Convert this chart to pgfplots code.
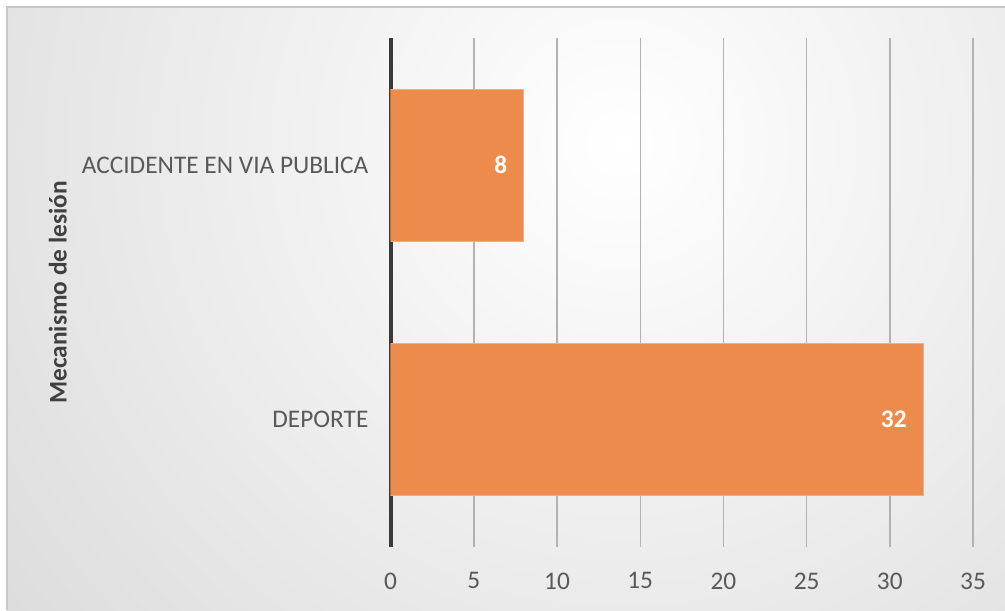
\documentclass[border=0pt]{standalone}
\usepackage{pgfplots}
\pgfplotsset{compat=1.18}
\usepackage{fontspec}
\setmainfont{Carlito}
\definecolor{bar}{RGB}{237,139,76}
\definecolor{txt}{RGB}{89,89,89}
\definecolor{axl}{RGB}{58,58,58}
\begin{document}
\fontsize{19}{22.8}\selectfont
\begin{tikzpicture}
\path[use as bounding box] (0,0) rectangle (753.75pt,457.5pt);
\begin{scope}
\clip (5.25pt,0pt) rectangle (753.75pt,452.25pt);
\shade[inner color=white, outer color=black!29] (465pt,350pt) circle (1250pt);
\end{scope}
\draw[black!22, line width=1.5pt] (5.25pt,0pt) -- (5.25pt,452.25pt) -- (753.75pt,452.25pt);
\begin{axis}[at={(293pt,47.25pt)}, anchor=south west, scale only axis,
  width=436.75pt, height=381.75pt,
  xbar, bar width=114pt, xmin=0, xmax=35, ymin=-0.5, ymax=1.5,
  ytick={0,1}, yticklabels={DEPORTE, ACCIDENTE EN VIA PUBLICA},
  xtick={5,10,...,35},
  extra x ticks={0},
  extra x tick style={xmajorgrids=true, major grid style={draw=axl, line width=3pt}},
  xmajorgrids, major grid style={draw=black!30, line width=1.1pt},
  axis line style={draw=none},
  major tick length=0pt,
  tick label style={font=\fontsize{19}{22.8}\selectfont, text=txt},
  /pgf/number format/assume math mode=true,
  xticklabel style={anchor=north, inner sep=0pt, yshift=-19pt},
  yticklabel style={anchor=east, inner sep=0pt, xshift=-16.5pt},
  ylabel={Mecanismo de lesión},
  ylabel style={at={(axis description cs:-0.5714,0.5)}, anchor=center, font=\bfseries\fontsize{19}{22.8}\selectfont, text=black!75},
  nodes near coords,
  nodes near coords style={anchor=east, inner sep=0pt, xshift=-12pt, font=\bfseries\fontsize{19}{22.8}\selectfont, text=white},
]
\addplot[fill=bar, draw=bar!70!white, line width=0.75pt] coordinates {(32,0) (8,1)};
\end{axis}
\end{tikzpicture}
\end{document}
